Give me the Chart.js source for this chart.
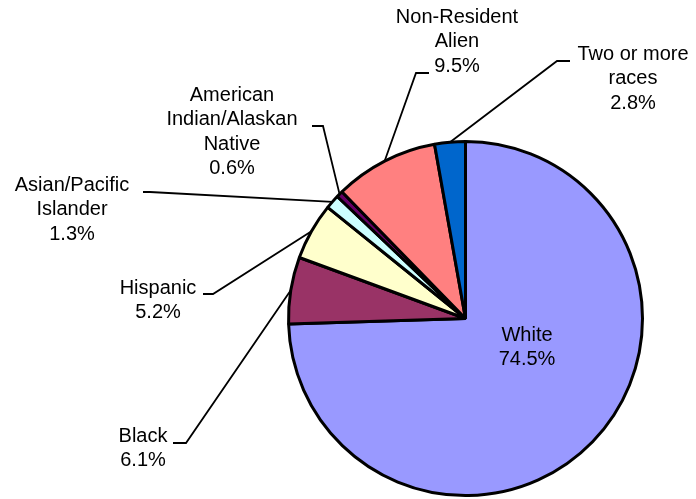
<!DOCTYPE html>
<html>
<head>
<meta charset="utf-8">
<script src="https://cdn.jsdelivr.net/npm/chart.js@4/dist/chart.umd.min.js"></script>
<style>
    body { margin: 0; background: #ffffff; }
    #raceChart { display: block; }
</style>
</head>
<body>
<canvas id="raceChart" width="696" height="499"></canvas>
<script>
// Enrollment by race/ethnicity (percent)
const categories = ['White', 'Black', 'Hispanic', 'Asian/Pacific Islander', 'American Indian/Alaskan Native', 'Non-Resident Alien', 'Two or more races'];
const percents = [74.5, 6.1, 5.2, 1.3, 0.6, 9.5, 2.8];
const labelLines = [
    ['White'],
    ['Black'],
    ['Hispanic'],
    ['Asian/Pacific', 'Islander'],
    ['American', 'Indian/Alaskan', 'Native'],
    ['Non-Resident', 'Alien'],
    ['Two or more', 'races']
];
const sliceColors = ['#9999FF', '#993366', '#FFFFCC', '#CCFFFF', '#660066', '#FF8080', '#0066CC'];

// where each label goes (text centre x, first line y) and the leader elbow
const labelLayout = [
    { x: 527, y: 335, inside: true },
    { x: 143, y: 436, elbow: [186, 443], end: 173 },
    { x: 158, y: 288, elbow: [213, 294], end: 203 },
    { x: 72, y: 185, elbow: [150, 192], end: 143 },
    { x: 232, y: 95, elbow: [323, 126], end: 312 },
    { x: 457, y: 17, elbow: [416, 73], end: 429 },
    { x: 633, y: 54, elbow: [557, 61], end: 570 }
];

// draws the leader lines and labels after the slices
const leaderLabels = {
    id: 'leaderLabels',
    afterDatasetsDraw(chart) {
        const ctx = chart.ctx;
        const meta = chart.getDatasetMeta(0);
        ctx.save();
        meta.data.forEach((arc, i) => {
            const p = arc.getProps(['x', 'y', 'startAngle', 'endAngle', 'outerRadius'], true);
            const lay = labelLayout[i];
            if (!lay.inside) {
                const mid = (p.startAngle + p.endAngle) / 2;
                const sx = p.x + Math.cos(mid) * p.outerRadius;
                const sy = p.y + Math.sin(mid) * p.outerRadius;
                ctx.beginPath();
                ctx.strokeStyle = '#000000';
                ctx.lineWidth = 1.8;
                ctx.moveTo(sx, sy);
                ctx.lineTo(lay.elbow[0], lay.elbow[1]);
                ctx.lineTo(lay.end, lay.elbow[1]);
                ctx.stroke();
            }
            const lines = labelLines[i].concat([percents[i].toFixed(1) + '%']);
            ctx.fillStyle = '#000000';
            ctx.font = '20px "Liberation Sans", Arial, sans-serif';
            ctx.textAlign = 'center';
            ctx.textBaseline = 'middle';
            lines.forEach((t, j) => {
                ctx.fillText(t, lay.x, lay.y + j * 24.5);
            });
        });
        ctx.restore();
    }
};

const ctx = document.getElementById('raceChart').getContext('2d');
new Chart(ctx, {
    type: 'pie',
    data: {
        labels: categories,
        datasets: [{
            data: percents,
            backgroundColor: sliceColors,
            borderColor: '#000000',
            borderWidth: 3
        }]
    },
    options: {
        responsive: false,
        animation: false,
        devicePixelRatio: 1,
        layout: {
            padding: { left: 287, right: 52, top: 140, bottom: 2 }
        },
        plugins: {
            legend: { display: false },
            tooltip: { enabled: false }
        }
    },
    plugins: [leaderLabels]
});
</script>
</body>
</html>
